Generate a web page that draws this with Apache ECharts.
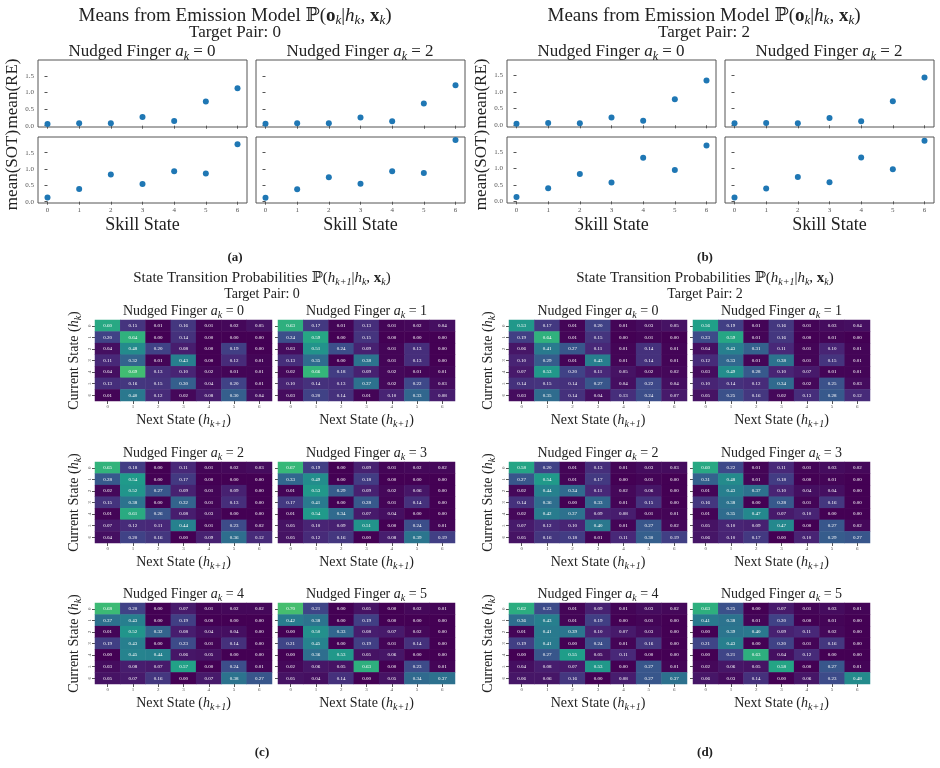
<!DOCTYPE html>
<html>
<head>
<meta charset="utf-8">
<script src="https://cdn.jsdelivr.net/npm/echarts@6/dist/echarts.min.js"></script>
<style>
  html, body { margin: 0; background: #fff; }
  #main { width: 940px; height: 768px; }
</style>
</head>
<body>
<div id="main"></div>
<script>
// ---- data ----
const skillStates = [0, 1, 2, 3, 4, 5, 6];
const stateLabels = ['0', '1', '2', '3', '4', '5', '6'];
const meanTicks = [0, 0.5, 1.0, 1.5];

// emission means, target pair 0
const reT0A0 = [0.05, 0.07, 0.07, 0.26, 0.14, 0.73, 1.13];
const sotT0A0 = [0.13, 0.39, 0.83, 0.54, 0.93, 0.86, 1.76];
const reT0A2 = [0.06, 0.07, 0.07, 0.25, 0.13, 0.67, 1.22];
const sotT0A2 = [0.12, 0.38, 0.75, 0.55, 0.93, 0.88, 1.89];
// emission means, target pair 2
const reT2A0 = [0.05, 0.07, 0.06, 0.23, 0.14, 0.78, 1.34];
const sotT2A0 = [0.13, 0.40, 0.83, 0.57, 1.32, 0.95, 1.69];
const reT2A2 = [0.06, 0.07, 0.06, 0.22, 0.12, 0.72, 1.43];
const sotT2A2 = [0.12, 0.39, 0.74, 0.58, 1.33, 0.97, 1.84];

// transition matrices (rows = current state, cols = next state), target pair 0
const transT0A0 = [
  [0.60, 0.15, 0.01, 0.16, 0.01, 0.02, 0.05],
  [0.20, 0.64, 0.00, 0.14, 0.00, 0.00, 0.00],
  [0.04, 0.48, 0.20, 0.08, 0.00, 0.19, 0.00],
  [0.11, 0.32, 0.01, 0.43, 0.00, 0.12, 0.01],
  [0.04, 0.69, 0.13, 0.10, 0.02, 0.01, 0.01],
  [0.13, 0.16, 0.15, 0.30, 0.04, 0.20, 0.01],
  [0.01, 0.40, 0.12, 0.02, 0.08, 0.30, 0.04]
];
const transT0A1 = [
  [0.63, 0.17, 0.01, 0.13, 0.01, 0.02, 0.04],
  [0.24, 0.59, 0.00, 0.15, 0.00, 0.00, 0.00],
  [0.03, 0.51, 0.24, 0.09, 0.01, 0.13, 0.00],
  [0.13, 0.35, 0.00, 0.38, 0.01, 0.13, 0.00],
  [0.02, 0.66, 0.18, 0.09, 0.02, 0.01, 0.01],
  [0.10, 0.14, 0.13, 0.37, 0.02, 0.22, 0.03],
  [0.03, 0.20, 0.14, 0.01, 0.10, 0.33, 0.08]
];
const transT0A2 = [
  [0.65, 0.18, 0.00, 0.11, 0.01, 0.02, 0.03],
  [0.28, 0.54, 0.00, 0.17, 0.00, 0.00, 0.00],
  [0.02, 0.52, 0.27, 0.09, 0.01, 0.09, 0.00],
  [0.15, 0.38, 0.00, 0.32, 0.01, 0.13, 0.00],
  [0.01, 0.61, 0.26, 0.08, 0.03, 0.00, 0.00],
  [0.07, 0.12, 0.11, 0.44, 0.01, 0.23, 0.02],
  [0.04, 0.20, 0.16, 0.00, 0.09, 0.36, 0.12]
];
const transT0A3 = [
  [0.67, 0.19, 0.00, 0.09, 0.01, 0.02, 0.02],
  [0.33, 0.49, 0.00, 0.18, 0.00, 0.00, 0.00],
  [0.01, 0.53, 0.29, 0.09, 0.02, 0.06, 0.00],
  [0.17, 0.41, 0.00, 0.28, 0.01, 0.14, 0.00],
  [0.01, 0.54, 0.34, 0.07, 0.04, 0.00, 0.00],
  [0.05, 0.10, 0.09, 0.51, 0.00, 0.24, 0.01],
  [0.05, 0.12, 0.16, 0.00, 0.08, 0.39, 0.19]
];
const transT0A4 = [
  [0.68, 0.20, 0.00, 0.07, 0.01, 0.02, 0.02],
  [0.37, 0.43, 0.00, 0.19, 0.00, 0.00, 0.00],
  [0.01, 0.52, 0.32, 0.08, 0.04, 0.04, 0.00],
  [0.19, 0.43, 0.00, 0.23, 0.01, 0.14, 0.00],
  [0.00, 0.45, 0.44, 0.06, 0.05, 0.00, 0.00],
  [0.03, 0.08, 0.07, 0.57, 0.00, 0.24, 0.01],
  [0.05, 0.07, 0.16, 0.00, 0.07, 0.38, 0.27]
];
const transT0A5 = [
  [0.70, 0.21, 0.00, 0.05, 0.00, 0.02, 0.01],
  [0.42, 0.38, 0.00, 0.19, 0.00, 0.00, 0.00],
  [0.00, 0.50, 0.33, 0.08, 0.07, 0.02, 0.00],
  [0.21, 0.45, 0.00, 0.19, 0.01, 0.14, 0.00],
  [0.00, 0.36, 0.53, 0.05, 0.06, 0.00, 0.00],
  [0.02, 0.06, 0.05, 0.63, 0.00, 0.23, 0.01],
  [0.05, 0.04, 0.14, 0.00, 0.05, 0.34, 0.37]
];
// transition matrices, target pair 2
const transT2A0 = [
  [0.53, 0.17, 0.01, 0.20, 0.01, 0.03, 0.05],
  [0.19, 0.64, 0.01, 0.15, 0.00, 0.01, 0.00],
  [0.06, 0.41, 0.27, 0.11, 0.01, 0.14, 0.01],
  [0.10, 0.29, 0.01, 0.43, 0.01, 0.14, 0.01],
  [0.07, 0.53, 0.20, 0.11, 0.05, 0.02, 0.02],
  [0.14, 0.15, 0.14, 0.27, 0.04, 0.22, 0.04],
  [0.03, 0.35, 0.14, 0.04, 0.13, 0.24, 0.07]
];
const transT2A1 = [
  [0.56, 0.19, 0.01, 0.16, 0.01, 0.03, 0.04],
  [0.23, 0.59, 0.01, 0.16, 0.00, 0.01, 0.00],
  [0.04, 0.43, 0.31, 0.11, 0.01, 0.10, 0.01],
  [0.12, 0.33, 0.01, 0.38, 0.01, 0.15, 0.01],
  [0.03, 0.49, 0.28, 0.10, 0.07, 0.01, 0.01],
  [0.10, 0.14, 0.12, 0.34, 0.02, 0.25, 0.03],
  [0.05, 0.25, 0.16, 0.02, 0.13, 0.28, 0.12]
];
const transT2A2 = [
  [0.58, 0.20, 0.01, 0.13, 0.01, 0.03, 0.03],
  [0.27, 0.54, 0.01, 0.17, 0.00, 0.01, 0.00],
  [0.02, 0.44, 0.34, 0.11, 0.02, 0.06, 0.00],
  [0.14, 0.36, 0.00, 0.33, 0.01, 0.15, 0.00],
  [0.02, 0.42, 0.37, 0.09, 0.08, 0.01, 0.01],
  [0.07, 0.12, 0.10, 0.40, 0.01, 0.27, 0.02],
  [0.05, 0.16, 0.18, 0.01, 0.11, 0.30, 0.19]
];
const transT2A3 = [
  [0.60, 0.22, 0.01, 0.11, 0.01, 0.03, 0.02],
  [0.31, 0.48, 0.01, 0.18, 0.00, 0.01, 0.00],
  [0.01, 0.43, 0.37, 0.10, 0.04, 0.04, 0.00],
  [0.16, 0.38, 0.00, 0.28, 0.01, 0.16, 0.00],
  [0.01, 0.35, 0.47, 0.07, 0.10, 0.00, 0.00],
  [0.05, 0.10, 0.09, 0.47, 0.00, 0.27, 0.02],
  [0.06, 0.10, 0.17, 0.00, 0.10, 0.29, 0.27]
];
const transT2A4 = [
  [0.62, 0.23, 0.01, 0.09, 0.01, 0.03, 0.02],
  [0.36, 0.43, 0.01, 0.19, 0.00, 0.01, 0.00],
  [0.01, 0.41, 0.39, 0.10, 0.07, 0.03, 0.00],
  [0.19, 0.41, 0.00, 0.24, 0.01, 0.16, 0.00],
  [0.00, 0.27, 0.55, 0.05, 0.11, 0.00, 0.00],
  [0.04, 0.08, 0.07, 0.53, 0.00, 0.27, 0.01],
  [0.06, 0.06, 0.16, 0.00, 0.08, 0.27, 0.37]
];
const transT2A5 = [
  [0.63, 0.25, 0.00, 0.07, 0.01, 0.03, 0.01],
  [0.41, 0.38, 0.01, 0.20, 0.00, 0.01, 0.00],
  [0.00, 0.39, 0.40, 0.09, 0.11, 0.02, 0.00],
  [0.21, 0.43, 0.00, 0.20, 0.01, 0.16, 0.00],
  [0.00, 0.21, 0.63, 0.04, 0.12, 0.00, 0.00],
  [0.02, 0.06, 0.05, 0.58, 0.00, 0.27, 0.01],
  [0.06, 0.03, 0.14, 0.00, 0.06, 0.23, 0.48]
];

// ---- layout / style ----
const FONT = '"Liberation Serif", "DejaVu Serif", serif';
const TXT = '#222';
const FRAME = '#555';
const viridis = ['#440154', '#482878', '#3e4989', '#31688e', '#26828e',
                 '#1f9e89', '#35b779', '#6ece58', '#b5de2b', '#fde725'];

function richFor(size) {
  return {
    i: { fontStyle: 'italic', fontSize: size, fontFamily: FONT, color: TXT, lineHeight: size + 4 },
    b: { fontWeight: 'bold', fontSize: size, fontFamily: FONT, color: TXT, lineHeight: size + 4 },
    s: { fontStyle: 'italic', fontSize: Math.round(size * 0.68), fontFamily: FONT, color: TXT,
         lineHeight: Math.round(size * 0.6), verticalAlign: 'bottom' }
  };
}

const grids = [], xAxes = [], yAxes = [], series = [], titles = [];
const heatSeries = [];

function label(text, x, y, size, bold) {
  titles.push({
    text: text, left: x, top: y, padding: 0,
    textAlign: 'center', textVerticalAlign: 'middle',
    textStyle: { fontFamily: FONT, fontSize: size, fontWeight: bold ? 'bold' : 'normal',
                 color: TXT, lineHeight: size + 4, rich: richFor(size) }
  });
}

function addScatter(box, values, opt) {
  const i = grids.length;
  grids.push({ left: box[0], top: box[1], width: box[2], height: box[3],
               show: true, borderColor: FRAME, borderWidth: 1, backgroundColor: 'transparent' });
  xAxes.push({
    gridIndex: i, type: 'value', min: -0.3, max: 6.3,
    splitLine: { show: false }, axisLine: { show: false },
    axisTick: { show: true, length: 3, customValues: skillStates, lineStyle: { color: FRAME } },
    axisLabel: { show: !!opt.xName, customValues: skillStates, fontSize: 7, color: '#555',
                 fontFamily: FONT, margin: 4 },
    name: opt.xName || '', nameLocation: 'middle', nameGap: 13,
    nameTextStyle: { fontFamily: FONT, fontSize: 18, color: TXT }
  });
  yAxes.push({
    gridIndex: i, type: 'value', min: opt.ymin, max: opt.ymax,
    splitLine: { show: false }, axisLine: { show: false },
    axisTick: { show: true, length: 3, customValues: meanTicks, lineStyle: { color: FRAME } },
    axisLabel: { show: !!opt.yLabels, customValues: meanTicks, fontSize: 7, color: '#555',
                 fontFamily: FONT, margin: 4, formatter: v => Number(v).toFixed(1) },
    name: opt.yName || '', nameLocation: 'middle', nameGap: 16, nameRotate: 90,
    nameTextStyle: { fontFamily: FONT, fontSize: 17, color: TXT }
  });
  series.push({
    type: 'scatter', xAxisIndex: i, yAxisIndex: i,
    data: skillStates.map((s, k) => [s, values[k]]),
    symbolSize: 6, itemStyle: { color: '#1f77b4', opacity: 1 },
    emphasis: { disabled: true }
  });
}

function addHeat(box, matrix, opt) {
  const i = grids.length;
  grids.push({ left: box[0], top: box[1], width: box[2], height: box[3], show: false });
  xAxes.push({
    gridIndex: i, type: 'category', data: stateLabels,
    axisLine: { show: false }, splitLine: { show: false },
    axisTick: { show: true, length: 3, alignWithLabel: true, lineStyle: { color: FRAME } },
    axisLabel: { fontSize: 5, color: '#555', fontFamily: FONT, margin: 3 },
    name: 'Next State ({i|h}{s|k+1})', nameLocation: 'middle', nameGap: 10,
    nameTextStyle: { fontFamily: FONT, fontSize: 14, color: TXT, lineHeight: 18, rich: richFor(14) }
  });
  yAxes.push({
    gridIndex: i, type: 'category', data: stateLabels, inverse: true,
    axisLine: { show: false }, splitLine: { show: false },
    axisTick: { show: true, length: 3, alignWithLabel: true, lineStyle: { color: FRAME } },
    axisLabel: { show: !!opt.yName, fontSize: 5, color: '#555', fontFamily: FONT, margin: 3, rotate: 90 },
    name: opt.yName ? 'Current State ({i|h}{s|k})' : '', nameLocation: 'middle', nameGap: 12, nameRotate: 90,
    nameTextStyle: { fontFamily: FONT, fontSize: 14, color: TXT, lineHeight: 18, rich: richFor(14) }
  });
  const cells = [];
  matrix.forEach((row, r) => row.forEach((v, c) => cells.push([c, r, v])));
  heatSeries.push(series.length);
  series.push({
    type: 'heatmap', xAxisIndex: i, yAxisIndex: i, data: cells,
    label: { show: true, fontSize: 5, color: '#fff', fontFamily: FONT,
             formatter: p => p.value[2].toFixed(2) },
    itemStyle: { borderWidth: 0 },
    emphasis: { disabled: true }
  });
}

// ---- top: emission means ----
const panelsTop = [
  { dx: 0, ymin: -0.04, ymax: 1.98, pair: '0', re: [reT0A0, reT0A2], sot: [sotT0A0, sotT0A2], cx: 235 },
  { dx: 469, ymin: -0.05, ymax: 1.95, pair: '2', re: [reT2A0, reT2A2], sot: [sotT2A0, sotT2A2], cx: 704 }
];
panelsTop.forEach(p => {
  const lefts = [38 + p.dx, 256 + p.dx];
  [0, 1].forEach(c => {
    addScatter([lefts[c], 60, 209, 67], p.re[c],
      { ymin: p.ymin, ymax: p.ymax, yLabels: c === 0, yName: c === 0 ? 'mean(RE)' : '' });
    addScatter([lefts[c], 137, 209, 66], p.sot[c],
      { ymin: p.ymin, ymax: p.ymax, yLabels: c === 0, yName: c === 0 ? 'mean(SOT)' : '', xName: 'Skill State' });
  });
  label('Means from Emission Model ℙ({b|o}{s|k}|{i|h}{s|k}, {b|x}{s|k})', p.cx, 16, 19);
  label('Target Pair: ' + p.pair, p.cx, 33, 17);
  label('Nudged Finger {i|a}{s|k} = 0', lefts[0] + 104, 52, 17);
  label('Nudged Finger {i|a}{s|k} = 2', lefts[1] + 104, 52, 17);
});
label('(a)', 235, 258, 13, true);
label('(b)', 705, 258, 13, true);

// ---- bottom: transition heatmaps ----
const panelsHeat = [
  { lefts: [95, 278], widths: [177, 177], cx: 262, pair: '0',
    mats: [transT0A0, transT0A1, transT0A2, transT0A3, transT0A4, transT0A5] },
  { lefts: [509, 693], widths: [178, 177], cx: 705, pair: '2',
    mats: [transT2A0, transT2A1, transT2A2, transT2A3, transT2A4, transT2A5] }
];
const heatTops = [320, 462, 603];
panelsHeat.forEach(p => {
  heatTops.forEach((top, r) => {
    [0, 1].forEach(c => {
      const a = r * 2 + c;
      addHeat([p.lefts[c], top, p.widths[c], 81], p.mats[a], { yName: c === 0 });
      label('Nudged Finger {i|a}{s|k} = ' + a, p.lefts[c] + p.widths[c] / 2, top - 9, 14);
    });
  });
  label('State Transition Probabilities ℙ({i|h}{s|k+1}|{i|h}{s|k}, {b|x}{s|k})', p.cx, 278, 15);
  label('Target Pair: ' + p.pair, p.cx, 294, 14);
});
label('(c)', 262, 753, 13, true);
label('(d)', 705, 753, 13, true);

const chart = echarts.init(document.getElementById('main'), null, { renderer: 'canvas' });
chart.setOption({
  backgroundColor: '#fff',
  animation: false,
  title: titles,
  grid: grids,
  xAxis: xAxes,
  yAxis: yAxes,
  visualMap: [{
    type: 'continuous', min: 0, max: 1, show: false,
    seriesIndex: heatSeries, inRange: { color: viridis }
  }],
  series: series
});
</script>
</body>
</html>
